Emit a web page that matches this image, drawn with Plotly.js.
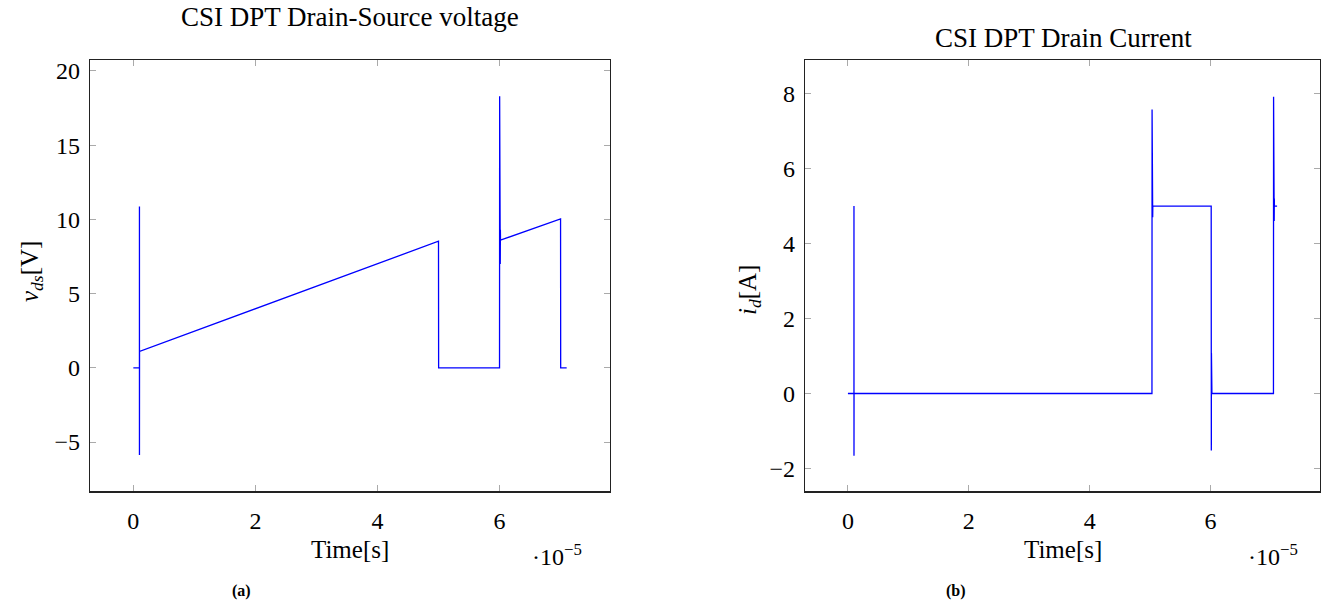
<!DOCTYPE html>
<html>
<head>
<meta charset="utf-8">
<script src="https://cdn.plot.ly/plotly-3.0.1.min.js"></script>
<style>html,body{margin:0;padding:0;background:#fff;}#chart{width:1332px;height:604px;}</style>
</head>
<body>
<div id="chart"></div>
<script>
// Drain-source voltage (left panel)
const timeV = [0, 1.000e-6, 1.002e-6, 1.004e-6, 1.006e-6, 1.008e-6, 1.010e-6, 1.012e-6, 1.014e-6, 1.016e-6,
  5.000e-5, 5.002e-5, 6.000e-5, 6.002e-5, 6.004e-5, 6.006e-5, 6.008e-5, 6.010e-5, 6.012e-5, 6.014e-5, 6.016e-5,
  7.000e-5, 7.002e-5, 7.100e-5];
const vds = [0, 0, 10.87, -5.87, 5.8, -2.3, 3.4, -0.6, 1.9, 1.1,
  8.53, 0, 0, 18.3, 2.1, 13.0, 5.4, 10.6, 7.0, 9.3, 8.6,
  10.04, 0, 0];

// Drain current (right panel)
const timeI = [0, 1.000e-6, 1.002e-6, 1.004e-6, 1.006e-6, 1.008e-6, 1.010e-6, 1.012e-6, 1.014e-6,
  5.030e-5, 5.032e-5, 5.034e-5, 5.036e-5, 5.038e-5, 5.040e-5, 5.042e-5, 5.044e-5,
  6.010e-5, 6.012e-5, 6.014e-5, 6.016e-5, 6.018e-5, 6.020e-5, 6.022e-5,
  7.040e-5, 7.042e-5, 7.044e-5, 7.046e-5, 7.048e-5, 7.050e-5, 7.052e-5, 7.054e-5, 7.056e-5, 7.100e-5];
const idr = [0, 0, 5.0, -1.66, 1.15, -0.85, 0.5, -0.3, 0,
  0, 7.58, 3.0, 6.6, 4.0, 5.6, 4.7, 5.0,
  5.0, -1.52, 1.07, -0.9, 0.6, -0.4, 0,
  0, 7.92, 2.76, 6.76, 4.14, 6.1, 4.6, 5.2, 5.0, 5.0];

const xTickVals = [0, 2e-5, 4e-5, 6e-5];
const xTickText = ['0', '2', '4', '6'];

const FONT = 'Liberation Serif, DejaVu Serif, serif';
const fs = 24;

const traces = [
  {x: timeV, y: vds, type: 'scatter', mode: 'lines', line: {color: '#0000ff', width: 1.3}, xaxis: 'x', yaxis: 'y', hoverinfo: 'none'},
  {x: timeI, y: idr, type: 'scatter', mode: 'lines', line: {color: '#0000ff', width: 1.3}, xaxis: 'x2', yaxis: 'y2', hoverinfo: 'none'}
];

const W = 1332, H = 604;
const yDom = [1 - 491.3 / H, 1 - 60.3 / H];

function xa(dom) {
  return {
    domain: dom, range: [-0.71e-5, 7.81e-5], tickvals: xTickVals, ticktext: xTickText,
    showgrid: false, zeroline: false, showline: true, linecolor: '#222', linewidth: 1.2, mirror: 'allticks',
    ticks: 'inside', ticklen: 6, tickcolor: '#aaa', tickwidth: 1, ticklabelstandoff: 8,
    tickfont: {family: FONT, size: fs, color: '#000'}
  };
}
function ya(range, dtick, anchor) {
  return {
    domain: yDom, range: range, dtick: dtick, tick0: 0, anchor: anchor,
    showgrid: false, zeroline: false, showline: true, linecolor: '#222', linewidth: 1.2, mirror: 'allticks',
    ticks: 'inside', ticklen: 6, tickcolor: '#aaa', tickwidth: 1, ticklabelstandoff: 4,
    tickfont: {family: FONT, size: fs, color: '#000'}, tickformat: 'd'
  };
}

const layout = {
  width: W, height: H,
  margin: {l: 0, r: 0, t: 0, b: 0},
  paper_bgcolor: '#fff', plot_bgcolor: '#fff',
  showlegend: false,
  xaxis: Object.assign(xa([90 / W, 610 / W]), {anchor: 'y'}),
  yaxis: ya([-8.32, 20.72], 5, 'x'),
  xaxis2: Object.assign(xa([805 / W, 1320 / W]), {anchor: 'y2'}),
  yaxis2: ya([-2.61, 8.89], 2, 'x2'),
  annotations: [
    {text: 'CSI DPT Drain-Source voltage', x: 350 / W, y: 1 - 17 / H, xref: 'paper', yref: 'paper', showarrow: false, font: {family: FONT, size: 27, color: '#000'}, xanchor: 'center', yanchor: 'middle'},
    {text: 'CSI DPT Drain Current', x: 1063 / W, y: 1 - 38 / H, xref: 'paper', yref: 'paper', showarrow: false, font: {family: FONT, size: 27, color: '#000'}, xanchor: 'center', yanchor: 'middle'},
    {text: 'Time[s]', x: 350 / W, y: 1 - 549 / H, xref: 'paper', yref: 'paper', showarrow: false, font: {family: FONT, size: 25, color: '#000'}, xanchor: 'center', yanchor: 'middle'},
    {text: 'Time[s]', x: 1063 / W, y: 1 - 549 / H, xref: 'paper', yref: 'paper', showarrow: false, font: {family: FONT, size: 25, color: '#000'}, xanchor: 'center', yanchor: 'middle'},
    {text: '·10<sup>−5</sup>', x: 557 / W, y: 1 - 555 / H, xref: 'paper', yref: 'paper', showarrow: false, font: {family: FONT, size: fs, color: '#000'}, xanchor: 'center', yanchor: 'middle'},
    {text: '·10<sup>−5</sup>', x: 1273 / W, y: 1 - 555 / H, xref: 'paper', yref: 'paper', showarrow: false, font: {family: FONT, size: fs, color: '#000'}, xanchor: 'center', yanchor: 'middle'},
    {text: '<b>(a)</b>', x: 241 / W, y: 1 - 591 / H, xref: 'paper', yref: 'paper', showarrow: false, font: {family: FONT, size: 16, color: '#000'}, xanchor: 'center', yanchor: 'middle'},
    {text: '<b>(b)</b>', x: 956 / W, y: 1 - 591 / H, xref: 'paper', yref: 'paper', showarrow: false, font: {family: FONT, size: 16, color: '#000'}, xanchor: 'center', yanchor: 'middle'},
    {text: '<i>v</i><sub><i>ds</i></sub>[V]', x: 31 / W, y: 1 - 272 / H, xref: 'paper', yref: 'paper', showarrow: false, textangle: -90, font: {family: FONT, size: 25, color: '#000'}, xanchor: 'center', yanchor: 'middle'},
    {text: '<i>i</i><sub><i>d</i></sub>[A]', x: 749 / W, y: 1 - 290 / H, xref: 'paper', yref: 'paper', showarrow: false, textangle: -90, font: {family: FONT, size: 25, color: '#000'}, xanchor: 'center', yanchor: 'middle'}
  ]
};

Plotly.newPlot('chart', traces, layout, {staticPlot: true, displayModeBar: false});
</script>
</body>
</html>
